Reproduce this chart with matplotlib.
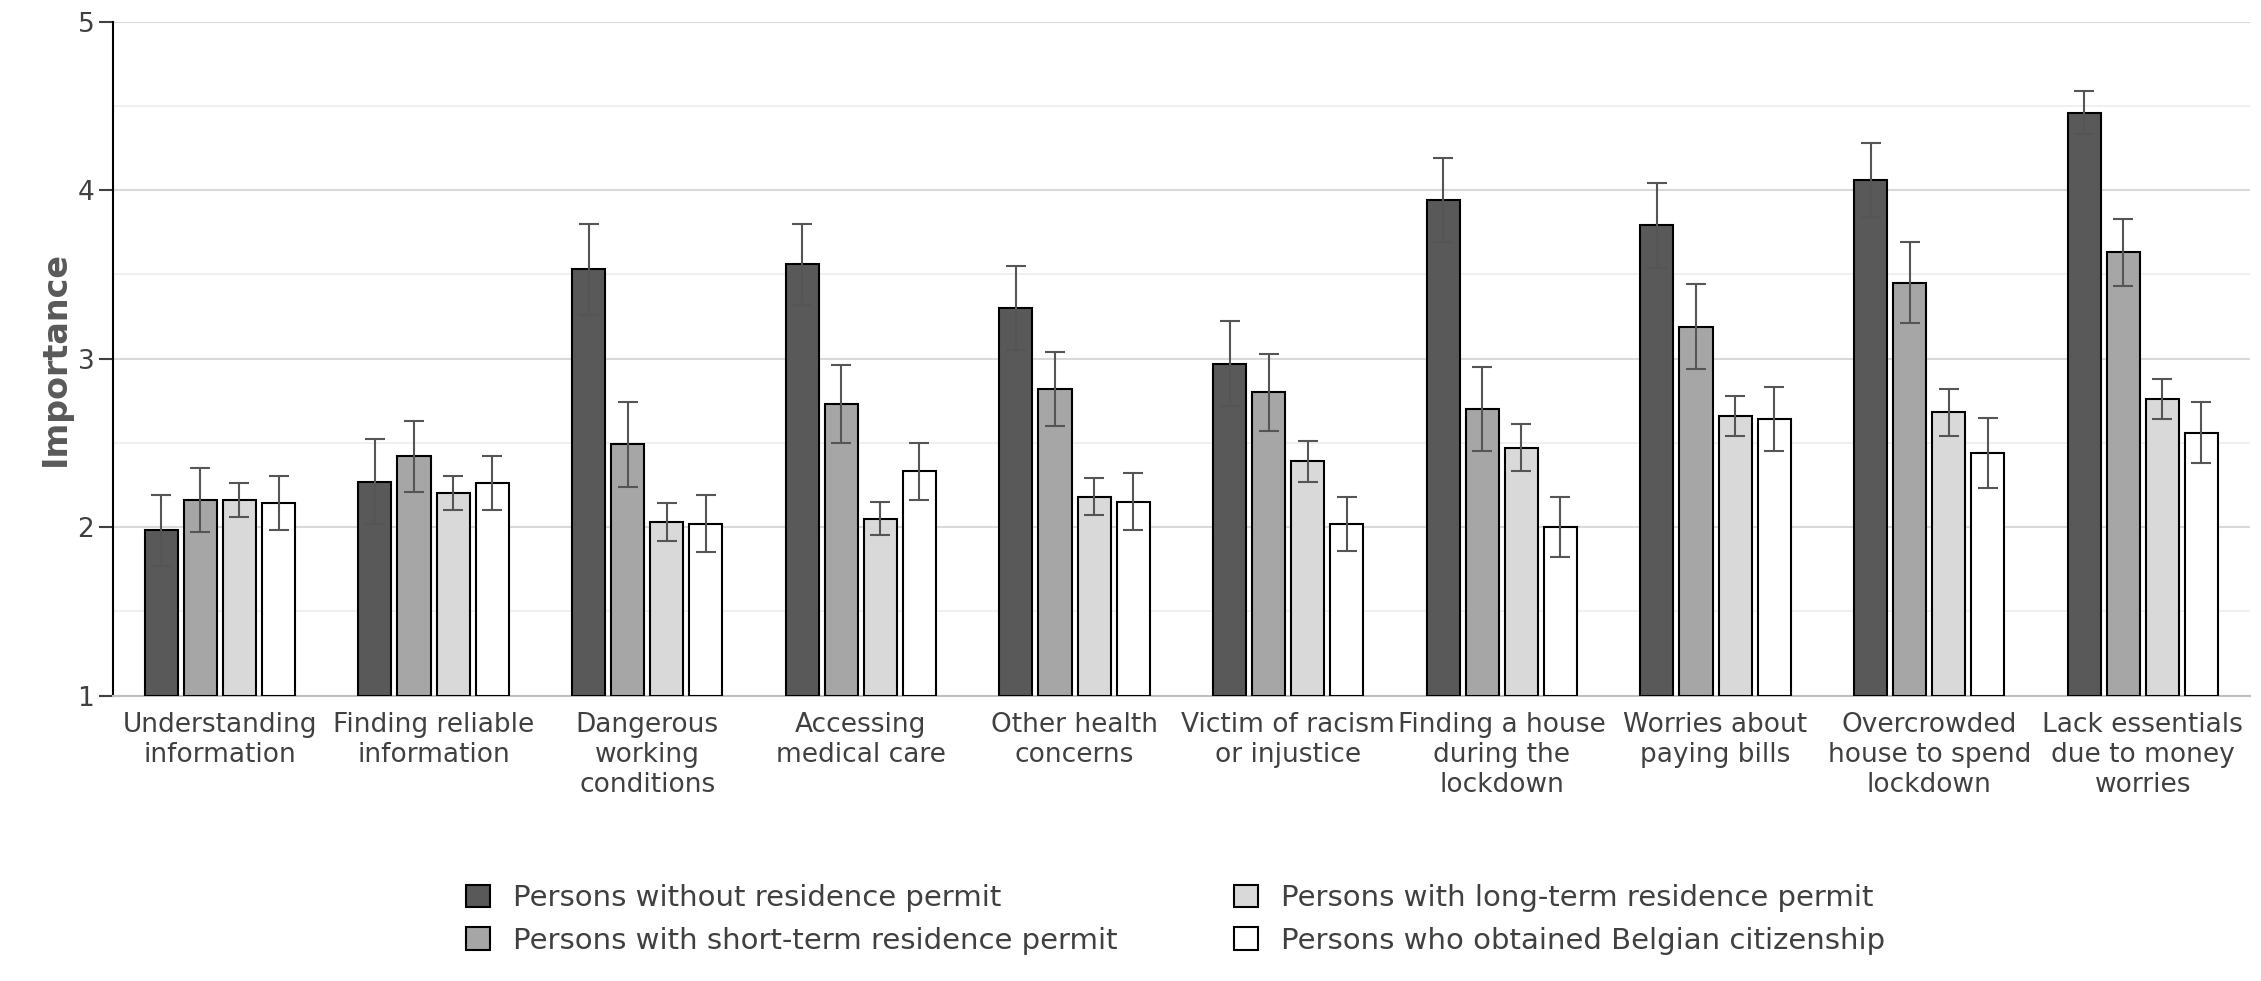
import numpy as np
import matplotlib.pyplot as plt

categories = ["Understanding\ninformation", "Finding reliable\ninformation", "Dangerous\nworking\nconditions",
              "Accessing\nmedical care", "Other health\nconcerns", "Victim of racism\nor injustice",
              "Finding a house\nduring the\nlockdown", "Worries about\npaying bills",
              "Overcrowded\nhouse to spend\nlockdown", "Lack essentials\ndue to money\nworries"]
series = ["Persons without residence permit", "Persons with short-term residence permit",
          "Persons with long-term residence permit", "Persons who obtained Belgian citizenship"]
no_permit = [1.98, 2.27, 3.53, 3.56, 3.30, 2.97, 3.94, 3.79, 4.06, 4.46]
short_term = [2.16, 2.42, 2.49, 2.73, 2.82, 2.80, 2.70, 3.19, 3.45, 3.63]
long_term = [2.16, 2.20, 2.03, 2.05, 2.18, 2.39, 2.47, 2.66, 2.68, 2.76]
citizens = [2.14, 2.26, 2.02, 2.33, 2.15, 2.02, 2.00, 2.64, 2.44, 2.56]
err_no = [0.21, 0.25, 0.27, 0.24, 0.25, 0.25, 0.25, 0.25, 0.22, 0.13]
err_short = [0.19, 0.21, 0.25, 0.23, 0.22, 0.23, 0.25, 0.25, 0.24, 0.20]
err_long = [0.10, 0.10, 0.11, 0.10, 0.11, 0.12, 0.14, 0.12, 0.14, 0.12]
err_cit = [0.16, 0.16, 0.17, 0.17, 0.17, 0.16, 0.18, 0.19, 0.21, 0.18]

colors = ["#595959", "#a6a6a6", "#d9d9d9", "#ffffff"]

fig = plt.figure(figsize=(22.61, 9.81), dpi=100)
ax = fig.add_axes([0.05, 0.291, 0.945, 0.687])

x = np.arange(len(categories))
w = 0.155
for i, (vals, errs) in enumerate(zip([no_permit, short_term, long_term, citizens],
                                     [err_no, err_short, err_long, err_cit])):
    pos = x + (i - 1.5) * 1.18 * w
    vals = np.array(vals)
    ax.bar(pos, vals - 1, w, bottom=1, color=colors[i], edgecolor="black", linewidth=1.5,
           label=series[i], zorder=3)
    ax.errorbar(pos, vals, yerr=errs, fmt="none", ecolor="#555555", elinewidth=1.5,
                capsize=7, capthick=1.5, zorder=4)

ax.set_ylim(1, 5)
ax.set_xlim(-0.5, len(categories) - 0.5)
ax.set_yticks([1, 2, 3, 4, 5])
ax.set_yticks([1.5, 2.5, 3.5, 4.5], minor=True)
ax.grid(axis="y", which="major", color="#d9d9d9", linewidth=1.5, zorder=0)
ax.grid(axis="y", which="minor", color="#eeeeee", linewidth=1.2, zorder=0)
ax.tick_params(axis="y", which="major", labelsize=19, length=10, width=1.5, colors="#404040")
ax.tick_params(axis="y", which="minor", length=0)
ax.set_xticks(x)
ax.set_xticklabels(categories, fontsize=19, color="#404040")
ax.tick_params(axis="x", length=0, pad=12)
for s in ["top", "right"]:
    ax.spines[s].set_visible(False)
ax.spines["left"].set_linewidth(1.5)
ax.spines["bottom"].set_color("#bfbfbf")
ax.spines["bottom"].set_linewidth(1.5)
ax.set_ylabel("Importance", fontsize=24, fontweight="bold", color="#595959")

fig.legend(loc="lower center", bbox_to_anchor=(0.52, 0.0), ncol=2, frameon=False,
           fontsize=21, handlelength=0.8, handleheight=0.8, columnspacing=4, labelspacing=0.5,
           labelcolor="#404040")

fig.savefig("out.png", dpi=100)
